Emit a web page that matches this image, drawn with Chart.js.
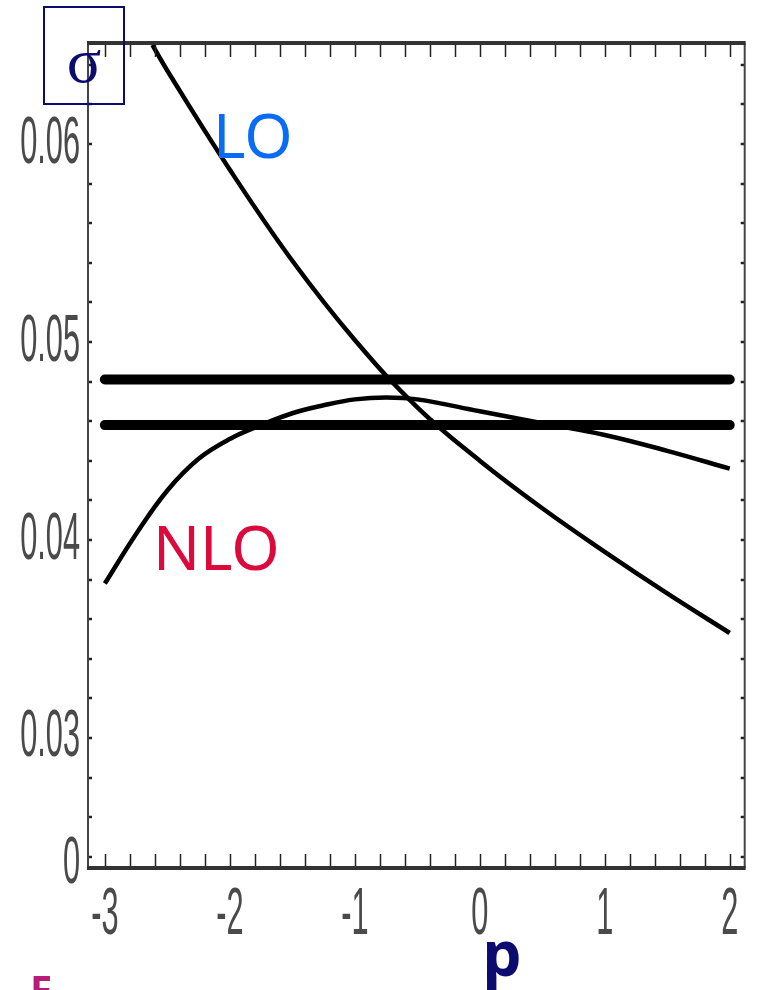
<!DOCTYPE html>
<html><head><meta charset="utf-8">
<script src="https://cdn.jsdelivr.net/npm/chart.js@4/dist/chart.umd.min.js"></script>
<style>html,body{margin:0;padding:0;background:#fff;overflow:hidden}#wrap{position:relative;width:759px;height:990px}</style>
</head><body><div id="wrap"><canvas id="c" width="759" height="990"></canvas></div>
<script>
// ---- data ----
const nloP = [-3.0, -2.75, -2.5, -2.25, -2.0, -1.75, -1.5, -1.25, -1.0, -0.75, -0.5, 0.0, 0.5, 1.0, 1.5, 2.0];
const nloValues = [0.0378, 0.0403, 0.0425, 0.0441, 0.0451, 0.0458, 0.0464, 0.0468, 0.0471, 0.0472, 0.0471, 0.0465, 0.0459, 0.0453, 0.0445, 0.0436];
const loP = [-2.62, -2.5, -2.0, -1.5, -1.0, -0.5, 0.0, 0.5, 1.0, 1.5, 2.0];
const loValues = [0.0650, 0.0637, 0.0587, 0.0541, 0.0501, 0.0467, 0.0440, 0.0416, 0.0394, 0.0373, 0.0353];
const bandP = [-3, 2];
const bandUpper = [0.0481, 0.0481];
const bandLower = [0.0458, 0.0458];
const xTicks = [-3, -2, -1, 0, 1, 2];
const xTickLabels = ['-3', '-2', '-1', '0', '1', '2'];
const yTicks = [0.0236, 0.03, 0.04, 0.05, 0.06];
const yTickLabels = ['0', '0.03', '0.04', '0.05', '0.06'];
const xRange = [-3.135, 2.12];
const yRange = [0.02343, 0.0651];

const pts = (xs, ys) => xs.map((x, i) => ({x: x, y: ys[i]}));
const tickFont = {family: "'Liberation Sans', Arial, sans-serif", size: 58};
const LABEL_SX = 0.53, LABEL_SY = 1.16;   // tall, narrow tick lettering

// draws the library's own tick labels with a narrow/tall transform
const narrowLabels = {
  id: 'narrowLabels',
  beforeDraw(chart) {
    ['x', 'y'].forEach(id => {
      const s = chart.scales[id];
      if (!s || s.__narrow) return;
      const orig = s.drawLabels;
      s.drawLabels = function (area) {
        const ctx = this.ctx;
        const proto = Object.getPrototypeOf(ctx).fillText;
        ctx.fillText = function (t, x, y, mw) {
          this.save();
          this.scale(LABEL_SX, LABEL_SY);
          proto.call(this, t, x / LABEL_SX, y / LABEL_SY);
          this.restore();
        };
        try { orig.call(this, area); } finally { delete ctx.fillText; }
      };
      s.__narrow = true;
    });
  }
};

const framePlugin = {
  id: 'frame',
  afterDatasetsDraw(chart) {
    const ctx = chart.ctx, a = chart.chartArea, xs = chart.scales.x, ys = chart.scales.y;
    ctx.save();
    // minor ticks (inside the frame)
    ctx.strokeStyle = '#222'; ctx.lineWidth = 1.5;
    for (let i = -15; i <= 10; i++) {
      const px = Math.round(xs.getPixelForValue(i / 5)) + 0.5;
      ctx.beginPath(); ctx.moveTo(px, a.bottom); ctx.lineTo(px, a.bottom - 14); ctx.stroke();
      ctx.beginPath(); ctx.moveTo(px, a.top); ctx.lineTo(px, a.top + 14); ctx.stroke();
    }
    ctx.lineWidth = 2.5;
    for (let j = 12; j <= 32; j++) {
      const py = Math.round(ys.getPixelForValue(j * 0.002));
      if (py < a.top + 4 || py > a.bottom - 4) continue;
      ctx.beginPath(); ctx.moveTo(a.left, py); ctx.lineTo(a.left + 4, py); ctx.stroke();
      ctx.beginPath(); ctx.moveTo(a.right, py); ctx.lineTo(a.right - 4, py); ctx.stroke();
    }
    // frame
    ctx.strokeStyle = '#444'; ctx.lineWidth = 2;
    ctx.beginPath(); ctx.moveTo(a.left, a.top); ctx.lineTo(a.left, a.bottom); ctx.stroke();
    ctx.beginPath(); ctx.moveTo(a.right, a.top); ctx.lineTo(a.right, a.bottom); ctx.stroke();
    ctx.strokeStyle = '#333'; ctx.lineWidth = 4;
    ctx.beginPath(); ctx.moveTo(a.left - 1, a.top); ctx.lineTo(a.right + 1, a.top); ctx.stroke();
    ctx.beginPath(); ctx.moveTo(a.left - 1, a.bottom); ctx.lineTo(a.right + 1, a.bottom); ctx.stroke();
    // annotations
    ctx.strokeStyle = '#0b0b70'; ctx.lineWidth = 2;
    ctx.strokeRect(44, 7, 80, 97);
    ctx.fillStyle = '#0b0b70';
    ctx.font = "64px 'Liberation Serif', serif";
    ctx.textAlign = 'center'; ctx.textBaseline = 'alphabetic';
    ctx.fillText('σ', 84, 82);
    ctx.textAlign = 'left';
    ctx.fillStyle = '#0a6cf5';
    ctx.font = "62px 'Noto Sans', sans-serif";
    ctx.fillText('LO', 213, 158);
    ctx.fillStyle = '#dc0a3c';
    ctx.fillText('NLO', 153, 570);
    ctx.fillStyle = '#0b0b70';
    ctx.font = "bold 62px 'Noto Sans', sans-serif";
    ctx.textAlign = 'center';
    ctx.fillText('p', 502, 976);
    ctx.fillStyle = '#b41e78';
    ctx.font = "bold 40px 'Noto Sans', sans-serif";
    ctx.textAlign = 'left';
    ctx.fillText('F', 30, 1004);
    ctx.restore();
  }
};

function build() {
  new Chart(document.getElementById('c'), {
    type: 'line',
    data: {
      datasets: [
        {label: 'upper', data: pts(bandP, bandUpper), borderColor: '#000', borderWidth: 10, borderCapStyle: 'round', pointRadius: 0},
        {label: 'lower', data: pts(bandP, bandLower), borderColor: '#000', borderWidth: 10, borderCapStyle: 'round', pointRadius: 0},
        {label: 'LO', data: pts(loP, loValues), borderColor: '#000', borderWidth: 4.5, pointRadius: 0, tension: 0.4},
        {label: 'NLO', data: pts(nloP, nloValues), borderColor: '#000', borderWidth: 4.5, pointRadius: 0, tension: 0.4}
      ]
    },
    options: {
      responsive: false, animation: false,
      layout: {padding: {top: 43, right: 7, left: 0, bottom: 0}},
      plugins: {legend: {display: false}, tooltip: {enabled: false}},
      scales: {
        x: {
          type: 'linear', min: xRange[0], max: xRange[1],
          grid: {display: false, drawTicks: false}, border: {display: false},
          afterBuildTicks: s => { s.ticks = xTicks.map(v => ({value: v})); },
          afterFit: s => { s.height = 122; },
          ticks: {font: tickFont, color: '#4a4a4a', padding: 13, maxRotation: 0, autoSkip: false,
                  callback: (v) => xTickLabels[xTicks.indexOf(v)]}
        },
        y: {
          type: 'linear', min: yRange[0], max: yRange[1],
          grid: {display: false, drawTicks: false}, border: {display: false},
          afterBuildTicks: s => { s.ticks = yTicks.map(v => ({value: v})); },
          afterFit: s => { s.width = 88; },
          ticks: {font: tickFont, color: '#4a4a4a', padding: 8, autoSkip: false,
                  callback: (v) => yTickLabels[yTicks.indexOf(v)]}
        }
      }
    },
    plugins: [narrowLabels, framePlugin]
  });
}
if (document.fonts && document.fonts.load) {
  Promise.all([
    document.fonts.load("58px 'Liberation Sans'"),
    document.fonts.load("62px 'Noto Sans'"),
    document.fonts.load("bold 62px 'Noto Sans'"),
    document.fonts.load("64px 'Liberation Serif'")
  ]).then(build, build);
} else { build(); }
</script>
</body></html>
